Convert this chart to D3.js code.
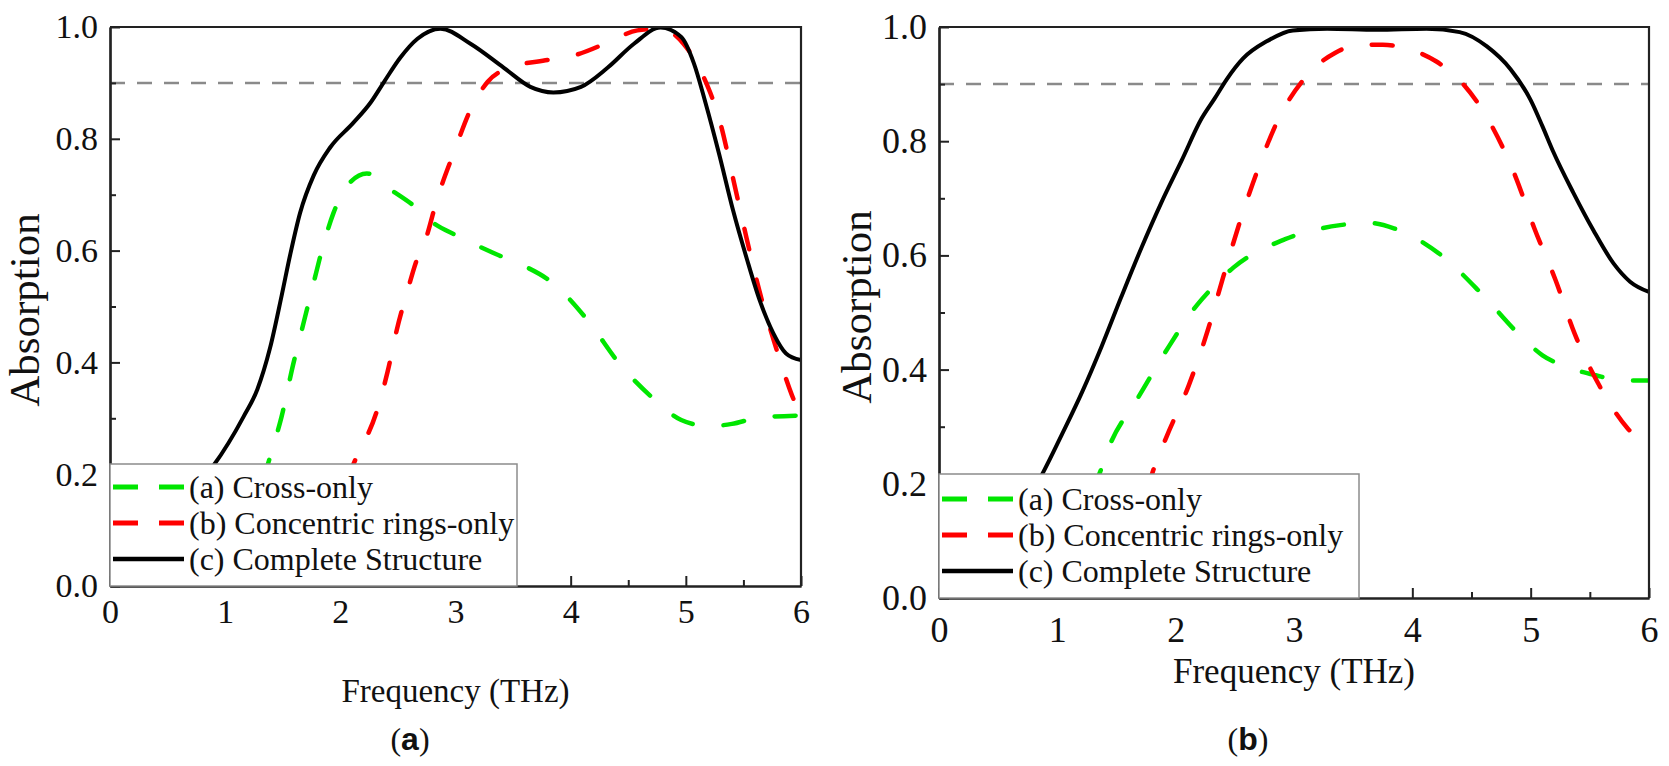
<!DOCTYPE html>
<html>
<head>
<meta charset="utf-8">
<script src="https://cdn.jsdelivr.net/npm/d3@7"></script>
<style>
  html, body { margin: 0; padding: 0; background: #fff; }
  svg { display: block; }
</style>
</head>
<body>
<svg id="chart" width="1669" height="766"></svg>
<script>
// ---------------- DATA ----------------
const xTicks = [0, 1, 2, 3, 4, 5, 6];
const yTicks = [0.0, 0.2, 0.4, 0.6, 0.8, 1.0];
const xMinor = [0.5, 1.5, 2.5, 3.5, 4.5, 5.5];
const yMinor = [0.1, 0.3, 0.5, 0.7, 0.9];
const threshold = 0.9;
const legendLabels = ["(a) Cross-only", "(b) Concentric rings-only", "(c) Complete Structure"];
const xTitle = "Frequency (THz)";
const yTitle = "Absorption";

// Panel (a)
const aCrossF = [1.33, 1.41, 1.49, 1.59, 1.68, 1.77, 1.855, 1.94, 2.06, 2.23, 2.43, 2.64, 2.81, 3.01, 3.36, 3.57, 3.85, 4.145, 4.43, 4.72, 4.96, 5.20, 5.40, 5.63, 6.0];
const aCrossA = [0.19, 0.245, 0.303, 0.396, 0.47, 0.544, 0.612, 0.667, 0.716, 0.738, 0.71, 0.68, 0.649, 0.627, 0.593, 0.575, 0.541, 0.476, 0.396, 0.335, 0.297, 0.286, 0.29, 0.301, 0.305];

const aRingsF = [2.06, 2.11, 2.32, 2.41, 2.49, 2.58, 2.67, 2.74, 2.84, 2.99, 3.13, 3.28, 3.50, 3.80, 4.06, 4.32, 4.58, 4.78, 4.98, 5.16, 5.30, 5.42, 5.53, 5.64, 5.77, 5.92, 6.0];
const aRingsA = [0.19, 0.216, 0.315, 0.383, 0.458, 0.526, 0.587, 0.62, 0.692, 0.778, 0.852, 0.902, 0.929, 0.941, 0.951, 0.972, 0.994, 0.997, 0.97, 0.908, 0.828, 0.72, 0.62, 0.527, 0.435, 0.342, 0.303];

const aCompleteF = [0.80, 0.90, 1.16, 1.28, 1.39, 1.49, 1.565, 1.65, 1.77, 1.91, 2.11, 2.26, 2.38, 2.52, 2.67, 2.87, 3.13, 3.42, 3.65, 3.85, 4.09, 4.32, 4.55, 4.78, 4.96, 5.07, 5.17, 5.29, 5.41, 5.53, 5.64, 5.76, 5.87, 6.0];
const aCompleteA = [0.19, 0.216, 0.303, 0.352, 0.426, 0.519, 0.593, 0.667, 0.735, 0.784, 0.828, 0.864, 0.902, 0.945, 0.979, 0.997, 0.970, 0.927, 0.893, 0.883, 0.893, 0.927, 0.970, 0.999, 0.982, 0.935, 0.865, 0.772, 0.672, 0.585, 0.512, 0.452, 0.416, 0.404];

// Panel (b)
const bCrossF = [1.30, 1.36, 1.43, 1.68, 1.92, 2.18, 2.29, 2.49, 2.92, 3.39, 3.63, 3.85, 4.24, 4.58, 4.91, 5.10, 5.30, 5.55, 5.77, 6.0];
const bCrossA = [0.19, 0.22, 0.261, 0.35, 0.433, 0.513, 0.539, 0.579, 0.628, 0.653, 0.657, 0.647, 0.601, 0.534, 0.46, 0.425, 0.405, 0.39, 0.381, 0.381];

const bRingsF = [1.76, 1.80, 1.92, 2.11, 2.27, 2.40, 2.54, 2.69, 2.86, 3.11, 3.35, 3.53, 3.75, 3.99, 4.20, 4.38, 4.66, 4.87, 5.03, 5.21, 5.37, 5.57, 5.82, 6.0];
const bRingsA = [0.19, 0.217, 0.281, 0.372, 0.468, 0.561, 0.657, 0.748, 0.835, 0.915, 0.955, 0.968, 0.969, 0.96, 0.94, 0.911, 0.831, 0.739, 0.648, 0.557, 0.464, 0.376, 0.297, 0.265];

const bCompleteF = [0.80, 0.88, 1.04, 1.21, 1.375, 1.54, 1.71, 1.88, 2.05, 2.22, 2.33, 2.43, 2.57, 2.77, 2.99, 3.28, 3.70, 4.12, 4.40, 4.63, 4.83, 5.0, 5.10, 5.19, 5.36, 5.53, 5.70, 5.84, 6.0];
const bCompleteA = [0.19, 0.22, 0.287, 0.361, 0.441, 0.527, 0.613, 0.693, 0.766, 0.84, 0.875, 0.908, 0.945, 0.975, 0.994, 0.997, 0.995, 0.997, 0.991, 0.966, 0.926, 0.872, 0.826, 0.782, 0.71, 0.644, 0.586, 0.554, 0.536];

// ---------------- DRAW ----------------
const svg = d3.select("#chart");
const FONT = "'Liberation Serif', 'Times New Roman', serif";

const seriesStyle = [
  { color: "#00e600", dash: "21,31", width: 4.5 },
  { color: "#ff0000", dash: "21,31", width: 4.5 },
  { color: "#000000", dash: null, width: 4 }
];

function zip(f, a) { return f.map((v, i) => [v, a[i]]); }

function panel(cfg) {
  const x = d3.scaleLinear().domain([0, 6]).range(cfg.xr);
  const y = d3.scaleLinear().domain([0, 1]).range(cfg.yr);
  const g = svg.append("g");
  const clipId = "clip" + cfg.id;
  svg.append("defs").append("clipPath").attr("id", clipId)
    .append("rect").attr("x", cfg.xr[0]).attr("y", cfg.yr[1])
    .attr("width", cfg.xr[1] - cfg.xr[0]).attr("height", cfg.yr[0] - cfg.yr[1]);

  // threshold line
  g.append("line")
    .attr("x1", x(0)).attr("x2", x(6))
    .attr("y1", y(threshold)).attr("y2", y(threshold))
    .attr("stroke", "#8a8a8a").attr("stroke-width", 2.5)
    .attr("stroke-dasharray", "15,12");

  const line = d3.line().x(d => x(d[0])).y(d => y(d[1])).curve(d3.curveMonotoneX);
  const curves = g.append("g").attr("clip-path", `url(#${clipId})`);
  cfg.series.forEach((s, i) => {
    const st = seriesStyle[i];
    curves.append("path")
      .attr("d", line(zip(s[0], s[1])))
      .attr("fill", "none")
      .attr("stroke", st.color)
      .attr("stroke-width", st.width)
      .attr("stroke-linecap", st.dash ? "round" : "butt")
      .attr("stroke-linejoin", "round")
      .attr("stroke-dasharray", st.dash);
  });

  // axes
  const xAxis = g.append("g").attr("transform", `translate(0,${y(0)})`)
    .call(d3.axisBottom(x).tickValues(xTicks).tickFormat(d3.format("d"))
      .tickSizeInner(-10).tickSizeOuter(0).tickPadding(cfg.xPad));
  const xMin = g.append("g").attr("transform", `translate(0,${y(0)})`)
    .call(d3.axisBottom(x).tickValues(xMinor).tickFormat("").tickSizeInner(-6).tickSizeOuter(0));
  const yAxis = g.append("g").attr("transform", `translate(${x(0)},0)`)
    .call(d3.axisLeft(y).tickValues(yTicks).tickFormat(d3.format(".1f"))
      .tickSizeInner(-10).tickSizeOuter(0).tickPadding(12));
  const yMin = g.append("g").attr("transform", `translate(${x(0)},0)`)
    .call(d3.axisLeft(y).tickValues(yMinor).tickFormat("").tickSizeInner(-6).tickSizeOuter(0));
  [xAxis, xMin, yAxis, yMin].forEach(a => {
    a.attr("font-family", FONT).attr("font-size", cfg.tickFont);
    a.selectAll("path.domain").attr("stroke", "#222").attr("stroke-width", 2.2);
    a.selectAll(".tick line").attr("stroke", "#222").attr("stroke-width", 2);
    a.selectAll(".tick text").attr("fill", "#111");
  });
  // top & right frame
  g.append("path")
    .attr("d", `M${x(0)},${y(1)}H${x(6)}V${y(0)}`)
    .attr("fill", "none").attr("stroke", "#222").attr("stroke-width", 2.2);

  // axis titles
  g.append("text")
    .attr("x", x(3)).attr("y", cfg.xTitleY)
    .attr("text-anchor", "middle").attr("font-family", FONT)
    .attr("font-size", cfg.xTitleFont).attr("fill", "#111").text(xTitle);
  g.append("text")
    .attr("transform", `translate(${cfg.yTitleX},${cfg.yTitleCY}) rotate(-90)`)
    .attr("text-anchor", "middle").attr("font-family", FONT)
    .attr("font-size", 43).attr("fill", "#111").text(yTitle);

  // legend
  const L = cfg.legend;
  const lg = g.append("g");
  lg.append("rect")
    .attr("x", x(0)).attr("y", L.top)
    .attr("width", L.right - x(0)).attr("height", y(0) - L.top)
    .attr("fill", "#fff").attr("stroke", "#8c8c8c").attr("stroke-width", 1.5);
  legendLabels.forEach((lab, i) => {
    const st = seriesStyle[i];
    const by = L.firstBase + i * 36;
    lg.append("line")
      .attr("x1", x(0) + 3).attr("x2", x(0) + 74)
      .attr("y1", by - 11).attr("y2", by - 11)
      .attr("stroke", st.color).attr("stroke-width", st.width + 0.5)
      .attr("stroke-dasharray", st.dash ? "25,21" : null);
    lg.append("text")
      .attr("x", x(0) + 79).attr("y", by)
      .attr("font-family", FONT).attr("font-size", 32).attr("fill", "#111")
      .text(lab);
  });

  // panel label
  const pl = svg.append("text")
    .attr("x", cfg.labelX).attr("y", cfg.labelY)
    .attr("text-anchor", "middle").attr("font-family", FONT)
    .attr("font-size", 32).attr("fill", "#111");
  pl.append("tspan").text("(");
  pl.append("tspan").attr("font-weight", "bold").attr("font-family", "'Liberation Sans', Arial, sans-serif").text(cfg.letter);
  pl.append("tspan").text(")");
}

panel({
  id: "a", letter: "a",
  xr: [110, 801], yr: [586, 27],
  series: [[aCrossF, aCrossA], [aRingsF, aRingsA], [aCompleteF, aCompleteA]],
  xPad: 13, tickFont: 34, xTitleFont: 33,
  xTitleY: 702, yTitleX: 39, yTitleCY: 310,
  legend: { top: 464, right: 517, firstBase: 498 },
  labelX: 410, labelY: 750
});

panel({
  id: "b", letter: "b",
  xr: [939, 1649], yr: [598, 27],
  series: [[bCrossF, bCrossA], [bRingsF, bRingsA], [bCompleteF, bCompleteA]],
  xPad: 18, tickFont: 36, xTitleFont: 35,
  xTitleY: 683, yTitleX: 871, yTitleCY: 307,
  legend: { top: 474, right: 1359, firstBase: 510 },
  labelX: 1248, labelY: 750
});
</script>
</body>
</html>
